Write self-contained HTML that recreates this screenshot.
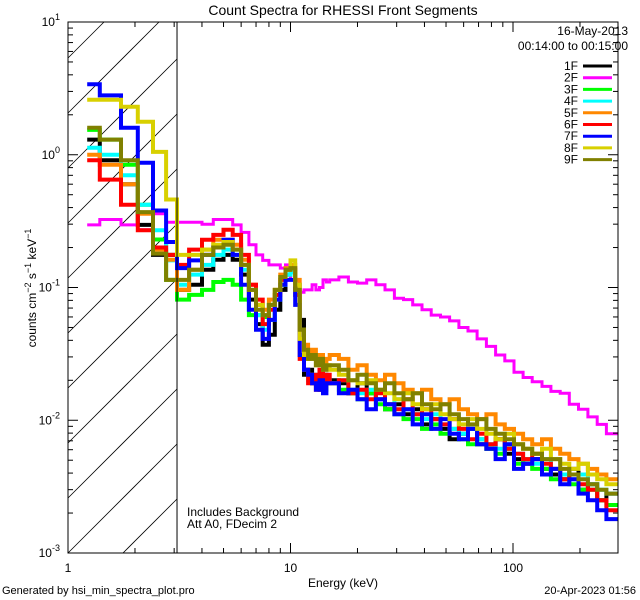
<!DOCTYPE html>
<html><head><meta charset="utf-8"><style>
html,body{margin:0;padding:0;width:640px;height:600px;overflow:hidden;background:#fff;}
svg{display:block;font-family:"Liberation Sans",sans-serif;}
</style></head><body>
<svg id="chart" width="640" height="600" viewBox="0 0 640 600" xmlns="http://www.w3.org/2000/svg">
<rect width="640" height="600" fill="#fff"/>
<text x="343" y="15" font-size="14" text-anchor="middle">Count Spectra for RHESSI Front Segments</text>
<text x="628" y="35" font-size="12" text-anchor="end">16-May-2013</text>
<text x="628" y="50" font-size="12" text-anchor="end">00:14:00 to 00:15:00</text>
<text x="187" y="516" font-size="12">Includes Background</text>
<text x="187" y="528" font-size="12">Att A0, FDecim 2</text>
<text x="343" y="587" font-size="12" text-anchor="middle">Energy (keV)</text>
<text x="2" y="594" font-size="11">Generated by hsi_min_spectra_plot.pro</text>
<text x="636" y="594" font-size="11" text-anchor="end">20-Apr-2023 01:56</text>
<text transform="translate(36,288) rotate(-90)" font-size="12" text-anchor="middle">counts cm<tspan dy="-5" font-size="9">−2</tspan><tspan dy="5"> s</tspan><tspan dy="-5" font-size="9">−1</tspan><tspan dy="5"> keV</tspan><tspan dy="-5" font-size="9">−1</tspan></text>
<defs><clipPath id="pclip"><rect x="68" y="22" width="550" height="531"/></clipPath></defs>
<g id="hatch"></g>
<g id="series" clip-path="url(#pclip)"></g>
<g id="axes"></g>
<g id="legend"></g>
</svg>
<script>
const lowEdges=[1.22,1.39,1.73,2.06,2.41,2.76,3.09];
const midEdges=[3.09,3.5,4.0,4.5,5.0,5.5,6.0,6.5,7.0,7.5,8.0,8.5,9.0,9.5,10.0,10.5,11.0,11.5,12.0,12.5,13.0,13.5,14.0,14.5,15.0];
const highEdges=[15,16.5,18.2,20,22,24.2,26.6,29.3,32.2,35.4,39,42.9,47.2,51.9,57.1,62.8,69,75.9,83.5,91.9,101,111,122,135,148,163,179,197,217,239,263,296];
const seriesNames=["1F","2F","3F","4F","5F","6F","7F","8F","9F"];
const seriesColors=["#000000","#ff00ff","#00ff00","#00ffff","#ff8800","#ff0000","#0000ff","#d8d000","#808000"];
const s1F=[1.3,0.91,0.6,0.296,0.176,0.176,
0.096,0.105,0.136,0.162,0.176,0.162,0.125,0.081,0.053,0.037,0.044,0.068,0.096,0.125,0.136,0.105,0.057,0.022,0.024,0.019,0.020,0.017,0.022,0.019,
0.020,0.019,0.016,0.019,0.016,0.0144,0.0121,0.0132,0.0111,0.0121,0.0093,0.0102,0.0086,0.0072,0.0079,0.0086,0.0066,0.0061,0.0072,0.0056,0.0051,0.0047,0.0051,0.0043,0.0039,0.0036,0.0043,0.0030,0.0033,0.0025,0.0028];
const s2F=[0.296,0.325,0.296,0.272,0.36,0.31,
0.31,0.31,0.30,0.325,0.325,0.296,0.26,0.21,0.176,0.16,0.148,0.148,0.14,0.148,0.114,0.088,0.092,0.096,0.096,0.105,0.096,0.10,0.114,0.11,
0.114,0.12,0.11,0.108,0.114,0.105,0.096,0.083,0.081,0.074,0.068,0.062,0.060,0.056,0.050,0.047,0.041,0.036,0.031,0.028,0.023,0.021,0.0195,0.018,0.0165,0.016,0.0132,0.0121,0.0106,0.0093,0.0079];
const s3F=[1.54,1.3,0.84,0.42,0.23,0.114,
0.081,0.088,0.096,0.11,0.114,0.105,0.081,0.062,0.062,0.06,0.074,0.088,0.105,0.125,0.136,0.096,0.048,0.024,0.022,0.020,0.019,0.020,0.017,0.019,
0.019,0.017,0.016,0.0144,0.016,0.0132,0.0121,0.0111,0.0102,0.0102,0.0086,0.0093,0.0079,0.0086,0.0072,0.0066,0.0072,0.0061,0.0056,0.0061,0.0047,0.0051,0.0043,0.0043,0.0036,0.0039,0.0033,0.0030,0.0030,0.0025,0.0023];
const s4F=[1.13,1.0,0.70,0.42,0.27,0.16,
0.105,0.125,0.148,0.176,0.193,0.176,0.136,0.096,0.062,0.048,0.057,0.081,0.105,0.125,0.13,0.088,0.041,0.024,0.020,0.022,0.019,0.020,0.019,0.020,
0.019,0.020,0.017,0.016,0.017,0.0144,0.0132,0.0144,0.0121,0.0111,0.0102,0.0111,0.0093,0.0086,0.0079,0.0086,0.0072,0.0066,0.0061,0.0066,0.0056,0.0051,0.0047,0.0051,0.0043,0.0039,0.0036,0.0039,0.0033,0.0030,0.0028];
const s5F=[1.0,0.84,0.6,0.36,0.193,0.162,
0.096,0.136,0.193,0.229,0.229,0.210,0.162,0.105,0.074,0.068,0.081,0.096,0.125,0.14,0.148,0.114,0.048,0.037,0.031,0.034,0.029,0.031,0.026,0.029,
0.031,0.029,0.024,0.026,0.022,0.020,0.022,0.019,0.017,0.016,0.017,0.0144,0.0132,0.0144,0.0121,0.0111,0.0102,0.0111,0.0093,0.0086,0.0079,0.0072,0.0066,0.0072,0.0061,0.0056,0.0051,0.0047,0.0043,0.0039,0.0036];
const s6F=[0.91,0.65,0.42,0.27,0.2,0.176,
0.148,0.193,0.229,0.249,0.272,0.249,0.176,0.105,0.081,0.053,0.068,0.088,0.114,0.136,0.14,0.088,0.029,0.024,0.019,0.022,0.017,0.024,0.019,0.022,
0.019,0.020,0.016,0.017,0.0144,0.016,0.0132,0.0121,0.0144,0.0111,0.0121,0.0102,0.0093,0.0102,0.0086,0.0072,0.0079,0.0066,0.0072,0.0061,0.0056,0.0051,0.0056,0.0047,0.0043,0.0036,0.0039,0.0033,0.0030,0.0025,0.0021];
const s7F=[3.4,2.8,1.6,0.87,0.38,0.22,
0.14,0.16,0.176,0.20,0.229,0.176,0.105,0.068,0.048,0.041,0.057,0.081,0.105,0.114,0.114,0.074,0.031,0.024,0.022,0.019,0.017,0.020,0.016,0.019,
0.019,0.016,0.017,0.0144,0.0121,0.0144,0.0132,0.0111,0.0121,0.0093,0.0111,0.0086,0.0102,0.0079,0.0072,0.0086,0.0066,0.0061,0.0051,0.0066,0.0043,0.0047,0.0051,0.0039,0.0043,0.0033,0.0036,0.0028,0.0025,0.0021,0.0018];
const s8F=[2.6,2.6,2.3,1.77,1.05,0.46,
0.176,0.176,0.193,0.210,0.22,0.193,0.148,0.096,0.074,0.062,0.074,0.096,0.12,0.136,0.16,0.105,0.041,0.031,0.029,0.031,0.026,0.029,0.024,0.026,
0.024,0.022,0.020,0.019,0.020,0.017,0.016,0.0144,0.016,0.0132,0.0121,0.0132,0.0111,0.0102,0.0093,0.0102,0.0086,0.0079,0.0072,0.0079,0.0066,0.0061,0.0056,0.0061,0.0051,0.0047,0.0043,0.0047,0.0039,0.0036,0.0033];
const s9F=[1.6,1.3,0.91,0.37,0.18,0.114,
0.114,0.136,0.176,0.20,0.21,0.193,0.148,0.096,0.068,0.062,0.074,0.096,0.12,0.136,0.14,0.096,0.048,0.034,0.029,0.031,0.026,0.029,0.024,0.026,
0.026,0.024,0.020,0.022,0.019,0.017,0.019,0.016,0.0144,0.016,0.0132,0.0121,0.0132,0.0111,0.0102,0.0093,0.0102,0.0086,0.0079,0.0072,0.0066,0.0061,0.0056,0.0051,0.0051,0.0043,0.0039,0.0036,0.0033,0.0030,0.0028];
const seriesValues=[s1F,s2F,s3F,s4F,s5F,s6F,s7F,s8F,s9F];
const xTickValues=[1,10,100];
const xTickLabels=["1","10","100"];
const yTickExps=[1,0,-1,-2,-3];
const thresholdEnergy=3.09;

const NS="http://www.w3.org/2000/svg";
const X0=68,X1=618,Y0=22,Y1=553;
const DEC_X=222.5, DEC_Y=132.75;
function xs(e){return X0+Math.log10(e)*DEC_X;}
function ys(v){return Y0+(1-Math.log10(v))*DEC_Y;}
function mk(t,a,p){const el=document.createElementNS(NS,t);for(const k in a)el.setAttribute(k,a[k]);p.appendChild(el);return el;}

const edges=[];
lowEdges.slice(0,-1).forEach((e,i)=>edges.push([e,lowEdges[i+1]]));
midEdges.slice(0,-1).forEach((e,i)=>edges.push([e,midEdges[i+1]]));
highEdges.slice(0,-1).forEach((e,i)=>edges.push([e,highEdges[i+1]]));

const hatch=document.getElementById('hatch');
const HX1=xs(thresholdEnergy);
for(let k=-11;k<4;k++){
  const c=Y1+k*55+X0; // line: y = c - x
  let xa=Math.max(X0,c-Y1), xb=Math.min(HX1,c-Y0);
  if(xb<=xa)continue;
  const ln=mk('line',{x1:xa.toFixed(1),y1:(c-xa).toFixed(1),x2:xb.toFixed(1),y2:(c-xb).toFixed(1),stroke:'#000','stroke-width':0.8},hatch);
  
  
}
const cut=mk('line',{x1:HX1,y1:Y0,x2:HX1,y2:Y1,stroke:'#000','stroke-width':1},hatch.parentNode);



const sg=document.getElementById('series');
seriesValues.forEach((vals,si)=>{
  let d='';
  vals.forEach((v,i)=>{
    const b=edges[i];
    const xa=xs(b[0]).toFixed(1),xb=Math.min(X1,xs(b[1])).toFixed(1),y=ys(v).toFixed(1);
    d+=(i===0?'M':'L')+xa+','+y+'L'+xb+','+y;
  });
  const p=mk('path',{d:d,fill:'none',stroke:seriesColors[si],'stroke-width':si===1?3:4,'stroke-linejoin':'miter'},sg);
  
  
});

const ax=document.getElementById('axes');
const box=mk('rect',{x:X0,y:Y0,width:X1-X0,height:Y1-Y0,fill:'none',stroke:'#000','stroke-width':1},ax);


for(let dec=0;dec<3;dec++){
  for(let m=1;m<10;m++){
    const e=m*Math.pow(10,dec);const x=xs(e);
    if(x>X1)continue;
    const L=m===1?10:5;
    const t1=mk('line',{x1:x,y1:Y1,x2:x,y2:Y1-L,stroke:'#000'},ax);
    
    
    const t2=mk('line',{x1:x,y1:Y0,x2:x,y2:Y0+L,stroke:'#000'},ax);
    
    
  }
}
xTickValues.forEach((v,i)=>{
  const t=mk('text',{x:xs(v),y:572,'font-size':12,'text-anchor':'middle'},ax);
  t.textContent=xTickLabels[i];
  
  
});
yTickExps.forEach(ex=>{
  const y=ys(Math.pow(10,ex));
  const t=mk('text',{x:X0-8,y:y+4,'font-size':12,'text-anchor':'end'},ax);
  t.textContent='10';
  const s=mk('tspan',{dy:-6,'font-size':9},t);s.textContent=String(ex);
  
  
  if(ex>-3){
    for(let m=1;m<10;m++){
      const yy=ys(m*Math.pow(10,ex-1));
      const L=m===1?10:5;
      const a=mk('line',{x1:X0,y1:yy,x2:X0+L,y2:yy,stroke:'#000'},ax);
      
      
      const b=mk('line',{x1:X1,y1:yy,x2:X1-L,y2:yy,stroke:'#000'},ax);
      
      
    }
  }
});

const lg=document.getElementById('legend');
seriesNames.forEach((n,i)=>{
  const y=66+i*11.7;
  const t=mk('text',{x:578,y:y+4,'font-size':12,'text-anchor':'end'},lg);
  t.textContent=n;
  
  
  const l=mk('line',{x1:583,y1:y,x2:612,y2:y,stroke:seriesColors[i],'stroke-width':3},lg);
  
  
});
</script>
</body></html>
